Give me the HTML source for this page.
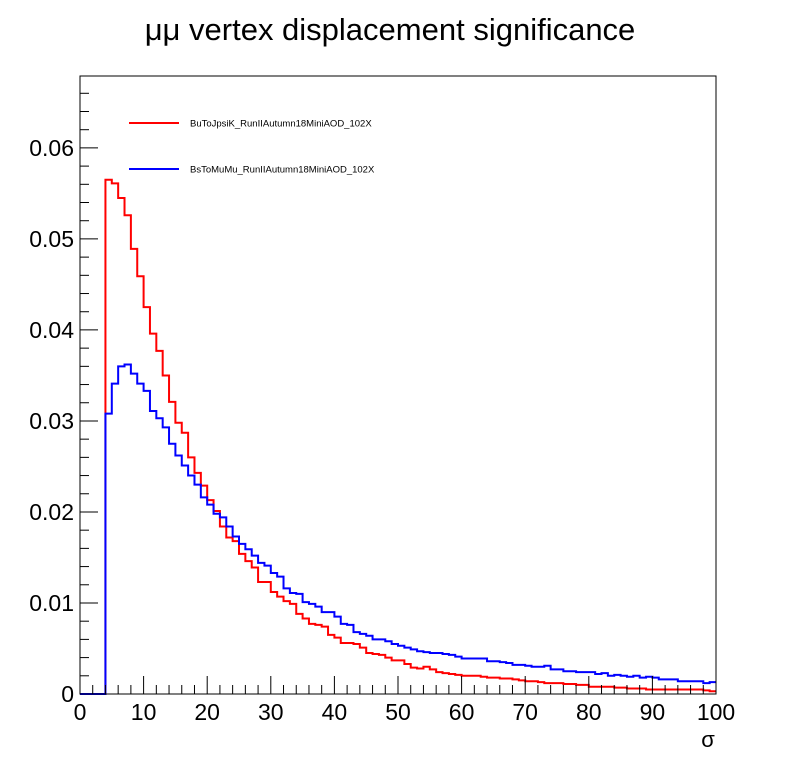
<!DOCTYPE html>
<html><head><meta charset="utf-8"><style>
body{margin:0;background:#fff;}
svg text{font-family:"Liberation Sans",sans-serif;}
</style></head><body>
<svg id="c" width="796" height="772" xmlns="http://www.w3.org/2000/svg">
<rect width="796" height="772" fill="#fff"/>
<text x="390" y="40" font-size="31" text-anchor="middle">μμ vertex displacement significance</text>
<g id="plot"></g>
<rect x="80" y="76" width="636" height="618" fill="none" stroke="#000" stroke-width="1"/>
<text x="708" y="747" font-size="22" text-anchor="middle">σ</text>
<g>
<line x1="129" y1="123" x2="179" y2="123" stroke="#f00" stroke-width="2"/>
<text x="190" y="126.5" font-size="9.5">BuToJpsiK_RunIIAutumn18MiniAOD_102X</text>
<line x1="129" y1="169" x2="179" y2="169" stroke="#00f" stroke-width="2"/>
<text x="190" y="172.5" font-size="9.5">BsToMuMu_RunIIAutumn18MiniAOD_102X</text>
</g>
</svg>
<script>
const xTicks=[0,10,20,30,40,50,60,70,80,90,100];
const yTicks=[0,0.01,0.02,0.03,0.04,0.05,0.06];
const yTickLabels=["0","0.01","0.02","0.03","0.04","0.05","0.06"];
const redValues=[0,0,0,0,0.0565,0.0561,0.0545,0.0526,0.0489,0.0459,0.0425,0.0396,0.0377,0.035,0.0321,0.0298,0.0287,0.026,0.0243,
0.0229,0.0213,0.0201,0.0184,0.0172,0.0168,0.0154,0.0146,0.0139,0.0123,0.0123,0.0112,0.0107,0.0102,0.0099,0.0088,0.0083,0.0077,0.0076,0.0074,0.0065,0.0062,0.0056,0.0056,0.0055,0.0051,0.0045,0.0044,0.0043,0.004,0.0037,0.0037,0.0033,0.0029,0.0028,0.003,0.0027,0.0024,
0.0023,0.0022,0.0021,0.002,0.002,0.002,0.0019,0.0018,0.0018,0.0017,0.0017,0.0016,0.0015,0.0014,0.0014,0.0013,0.0012,0.0012,0.0012,0.0011,0.0011,0.001,0.001,0.0008,0.0008,0.0008,0.0008,0.0007,0.0007,0.0006,0.0006,0.0006,0.0005,0.0005,0.0005,0.0005,0.0005,0.0005,0.0005,0.0005,0.0005,0.0004,0.0003];
const blueValues=[0,0,0,0,0.0308,0.0341,0.036,0.0362,0.0352,0.0341,0.0333,0.0311,0.0303,0.0293,0.0275,0.0262,0.0251,0.024,0.023,0.0216,0.0208,0.0198,
0.0194,0.0184,0.0173,0.0165,0.0159,0.0152,0.0144,0.0141,0.0133,0.0129,0.0116,0.0111,0.011,0.0101,0.0099,0.0096,0.009,0.009,0.0085,0.0077,0.0076,0.0068,0.0066,0.0064,0.006,0.006,0.0058,0.0055,0.0053,0.0051,0.0049,0.0047,0.0046,0.0045,0.0045,
0.0044,0.0043,0.0041,0.0039,0.0039,0.0039,0.0039,0.0036,0.0036,0.0035,0.0034,0.0032,0.0032,0.0031,0.003,0.003,0.0031,0.0027,0.0027,0.0025,0.0025,0.0024,0.0024,0.0024,0.0022,0.0023,0.002,0.0021,0.002,0.0019,0.002,0.0018,0.0019,0.0018,0.0016,0.0016,0.0016,0.0014,0.0014,0.0014,0.0014,0.0012,0.0013];
const X0=80,X1=716,Y0=694,Y1=76,XMAX=100,YMAX=0.0679;
function sx(v){return X0+(X1-X0)*v/XMAX;}
function sy(v){return Y0-(Y0-Y1)*v/YMAX;}
const NS="http://www.w3.org/2000/svg";
const g=document.getElementById('plot');
function mk(t,a){const e=document.createElementNS(NS,t);for(const k in a)e.setAttribute(k,a[k]);g.appendChild(e);return e;}
function hist(vals,color,name){
  let d="M"+sx(0)+","+sy(0);
  for(let i=0;i<vals.length;i++){d+=" L"+sx(i)+","+sy(vals[i])+" L"+sx(i+1)+","+sy(vals[i]);}
  const p=mk('path',{d:d,fill:'none',stroke:color,'stroke-width':2});
  
  
}
hist(redValues,'#f00','series-butojpsik');
hist(blueValues,'#00f','series-bstomumu');
for(let v=0;v<=XMAX;v+=2){
  const major=v%10===0;
  const l=mk('line',{x1:sx(v),x2:sx(v),y1:Y0,y2:Y0-(major?18:9),stroke:'#000'});
  
  
}
xTicks.forEach(v=>{
  const t=mk('text',{x:sx(v),y:720,'font-size':23,'text-anchor':'middle'});
  t.textContent=v;
  
  
});
for(let k=0;k*0.002<=YMAX+1e-9;k++){
  const v=k*0.002, major=k%5===0;
  const l=mk('line',{x1:X0,x2:X0+(major?18:9),y1:sy(v),y2:sy(v),stroke:'#000'});
  
  
}
yTicks.forEach((v,i)=>{
  const t=mk('text',{x:74,y:sy(v)+8,'font-size':23,'text-anchor':'end'});
  t.textContent=yTickLabels[i];
  
  
});
</script>
</body></html>
